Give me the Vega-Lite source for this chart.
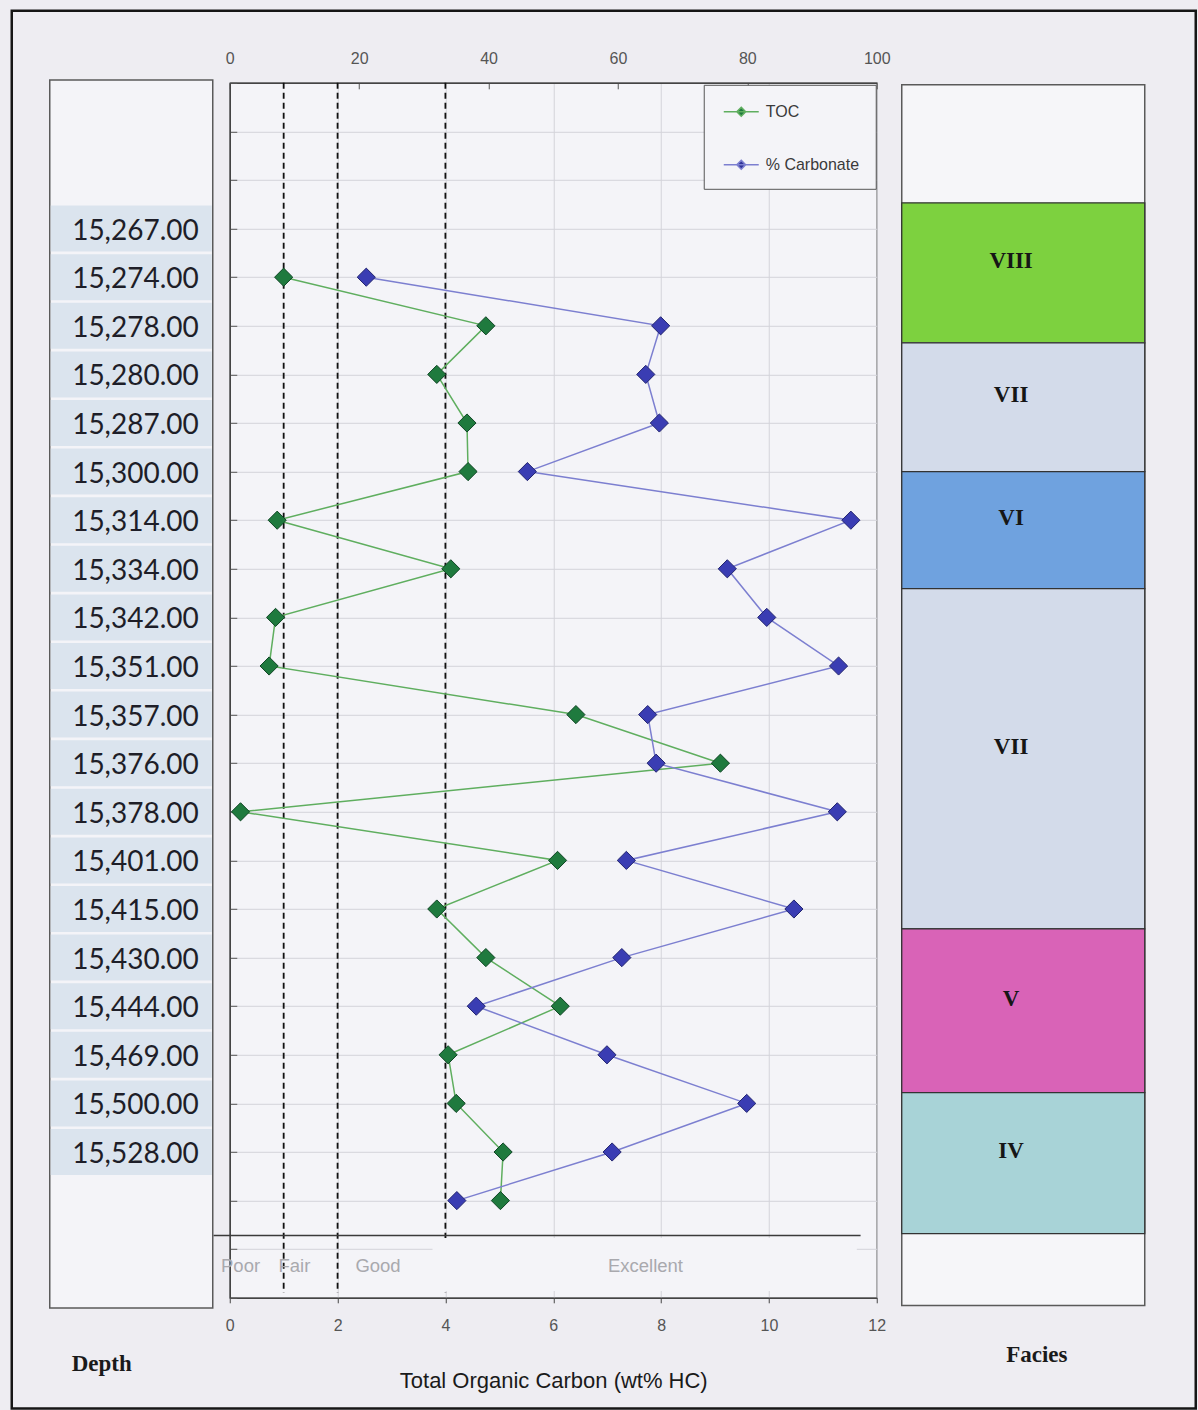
{
  "$schema": "https://vega.github.io/schema/vega-lite/v6.json",
  "background": "#eeedf2",
  "padding": {"left": 9.75, "top": 8.8, "right": 0, "bottom": 0},
  "bounds": "flush",
  "spacing": 17,
  "config": {
    "view": {"stroke": null},
    "text": {"font": "Liberation Sans"}
  },
  "datasets": {
    "samples": [
      {"row": 4, "toc": 1.0, "carb": 21.1},
      {"row": 5, "toc": 4.75, "carb": 66.6},
      {"row": 6, "toc": 3.84, "carb": 64.3},
      {"row": 7, "toc": 4.4, "carb": 66.4},
      {"row": 8, "toc": 4.42, "carb": 46.0},
      {"row": 9, "toc": 0.88, "carb": 96.0},
      {"row": 10, "toc": 4.1, "carb": 76.9},
      {"row": 11, "toc": 0.85, "carb": 83.0},
      {"row": 12, "toc": 0.73, "carb": 94.1},
      {"row": 13, "toc": 6.42, "carb": 64.6},
      {"row": 14, "toc": 9.1, "carb": 65.9},
      {"row": 15, "toc": 0.2, "carb": 93.9},
      {"row": 16, "toc": 6.08, "carb": 61.3},
      {"row": 17, "toc": 3.84, "carb": 87.2},
      {"row": 18, "toc": 4.75, "carb": 60.6},
      {"row": 19, "toc": 6.13, "carb": 38.1},
      {"row": 20, "toc": 4.05, "carb": 58.3},
      {"row": 21, "toc": 4.2, "carb": 79.9},
      {"row": 22, "toc": 5.07, "carb": 59.1},
      {"row": 23, "toc": 5.02, "carb": 35.1}
    ],
    "depths": [
      {"row": 3, "depth": 15267}, {"row": 4, "depth": 15274}, {"row": 5, "depth": 15278},
      {"row": 6, "depth": 15280}, {"row": 7, "depth": 15287}, {"row": 8, "depth": 15300},
      {"row": 9, "depth": 15314}, {"row": 10, "depth": 15334}, {"row": 11, "depth": 15342},
      {"row": 12, "depth": 15351}, {"row": 13, "depth": 15357}, {"row": 14, "depth": 15376},
      {"row": 15, "depth": 15378}, {"row": 16, "depth": 15401}, {"row": 17, "depth": 15415},
      {"row": 18, "depth": 15430}, {"row": 19, "depth": 15444}, {"row": 20, "depth": 15469},
      {"row": 21, "depth": 15500}, {"row": 22, "depth": 15528}
    ],
    "facies": [
      {"id": 1, "facies": "VIII", "top": 2.47, "base": 5.35},
      {"id": 2, "facies": "VII", "top": 5.35, "base": 8.0},
      {"id": 3, "facies": "VI", "top": 8.0, "base": 10.41},
      {"id": 4, "facies": "VII", "top": 10.41, "base": 17.41},
      {"id": 5, "facies": "V", "top": 17.41, "base": 20.78},
      {"id": 6, "facies": "IV", "top": 20.78, "base": 23.68}
    ],
    "cutoffs": [{"toc": 1}, {"toc": 2}, {"toc": 4}],
    "grades": [
      {"grade": "Poor", "toc": 0.2},
      {"grade": "Fair", "toc": 1.2},
      {"grade": "Good", "toc": 2.75},
      {"grade": "Excellent", "toc": 7.71}
    ]
  },
  "resolve": {
    "scale": {"color": "independent", "fill": "independent"},
    "legend": {"color": "independent"}
  },
  "hconcat": [
    {
      "width": 163,
      "height": 1215,
      "layer": [
        {
          "data": {"values": [{}]},
          "mark": {"type": "rect", "fill": "transparent", "stroke": "#161616", "strokeWidth": 2.5},
          "encoding": {
            "x": {"datum": -0.2331, "type": "quantitative", "scale": {"domain": [0, 1], "nice": false, "zero": false}, "axis": null},
            "x2": {"datum": 7.0307},
            "y": {"datum": -1.48, "type": "quantitative", "scale": {"domain": [0, 25], "reverse": true, "nice": false, "zero": false}, "axis": null},
            "y2": {"datum": 27.28}
          }
        },
        {
          "data": {"values": [{}]},
          "mark": {"type": "rect", "fill": "#f4f4f8", "stroke": "#5a5a5a", "strokeWidth": 1.5},
          "encoding": {
            "x": {"datum": 0, "type": "quantitative"},
            "x2": {"datum": 1},
            "y": {"datum": -0.06, "type": "quantitative"},
            "y2": {"datum": 25.21}
          }
        },
        {
          "data": {"name": "depths"},
          "mark": {"type": "tick", "orient": "horizontal", "size": 161, "thickness": 46, "color": "#dbe4ee", "opacity": 1},
          "encoding": {
            "x": {"datum": 0.5, "type": "quantitative"},
            "y": {"field": "row", "type": "quantitative"}
          }
        },
        {
          "data": {"name": "depths"},
          "mark": {"type": "text", "align": "right", "baseline": "middle", "dy": 3, "font": "Lato", "fontSize": 28, "color": "#1e1e28"},
          "encoding": {
            "x": {"datum": 0.914, "type": "quantitative"},
            "y": {"field": "row", "type": "quantitative"},
            "text": {"field": "depth", "type": "quantitative", "format": ",.2f"}
          }
        },
        {
          "data": {"values": [{}]},
          "mark": {"type": "text", "text": "Depth", "align": "center", "baseline": "middle", "font": "Liberation Serif", "fontWeight": "bold", "fontSize": 23, "color": "#1a1a1a"},
          "encoding": {
            "x": {"datum": 0.319, "type": "quantitative"},
            "y": {"datum": 26.36, "type": "quantitative"}
          }
        }
      ]
    },
    {
      "width": 647,
      "height": 1215,
      "view": {"fill": "#f4f4f8", "stroke": "#555555", "strokeWidth": 1.2},
      "resolve": {"scale": {"x": "independent"}, "axis": {"x": "independent"}},
      "layer": [
        {
          "layer": [
            {
              "data": {"name": "cutoffs"},
              "mark": {"type": "rule", "color": "#111111", "strokeWidth": 1.8, "strokeDash": [6, 4]},
              "encoding": {
                "x": {"field": "toc", "type": "quantitative", "scale": {"domain": [0, 12], "nice": false, "zero": false}},
                "y": {"datum": 0, "type": "quantitative", "scale": {"domain": [0, 25], "reverse": true, "nice": false, "zero": false}},
                "y2": {"datum": 24.9}
              }
            },
            {
              "data": {"values": [{}]},
              "mark": {"type": "rect", "fill": "#f4f4f8"},
              "encoding": {
                "x": {"datum": 3.76, "type": "quantitative", "scale": {"domain": [0, 12], "nice": false, "zero": false}},
                "x2": {"datum": 11.63},
                "y": {"datum": 23.77, "type": "quantitative", "scale": {"domain": [0, 25], "reverse": true, "nice": false, "zero": false}},
                "y2": {"datum": 24.86}
              }
            },
            {
              "data": {"values": [{}]},
              "mark": {"type": "rule", "color": "#3a3a3a", "strokeWidth": 1.5},
              "encoding": {
                "x": {"datum": -0.3, "type": "quantitative", "scale": {"domain": [0, 12], "nice": false, "zero": false}},
                "x2": {"datum": 11.7},
                "y": {"datum": 23.72, "type": "quantitative", "scale": {"domain": [0, 25], "reverse": true, "nice": false, "zero": false}}
              }
            },
            {
              "data": {"name": "grades"},
              "mark": {"type": "text", "align": "center", "baseline": "middle", "font": "Liberation Sans", "fontSize": 18.5, "color": "#a9a9ae"},
              "encoding": {
                "x": {"field": "toc", "type": "quantitative", "scale": {"domain": [0, 12], "nice": false, "zero": false}},
                "y": {"datum": 24.34, "type": "quantitative", "scale": {"domain": [0, 25], "reverse": true, "nice": false, "zero": false}},
                "text": {"field": "grade"}
              }
            },
            {
              "data": {"name": "samples"},
              "mark": {"type": "line", "strokeWidth": 1.5},
              "encoding": {
                "x": {
                  "field": "toc",
                  "type": "quantitative",
                  "scale": {"domain": [0, 12], "nice": false, "zero": false},
                  "axis": {
                    "orient": "bottom",
                    "values": [0, 2, 4, 6, 8, 10, 12],
                    "format": "d",
                    "grid": true,
                    "gridColor": "#d4d4da",
                    "gridWidth": 1,
                    "domainColor": "#444444",
                    "domainWidth": 1.5,
                    "tickColor": "#444444",
                    "tickSize": 5,
                    "labelFont": "Liberation Sans",
                    "labelFontSize": 16,
                    "labelColor": "#555555",
                    "labelBaseline": "middle",
                    "labelPadding": 23,
                    "labelFlush": false,
                    "labelOverlap": false,
                    "title": "Total Organic Carbon (wt% HC)",
                    "titleFont": "Liberation Sans",
                    "titleFontSize": 22,
                    "titleFontWeight": "normal",
                    "titleColor": "#1a1a1a",
                    "titleY": 83,
                    "titleBaseline": "middle"
                  }
                },
                "y": {
                  "field": "row",
                  "type": "quantitative",
                  "scale": {"domain": [0, 25], "reverse": true, "nice": false, "zero": false},
                  "axis": {
                    "values": [0, 1, 2, 3, 4, 5, 6, 7, 8, 9, 10, 11, 12, 13, 14, 15, 16, 17, 18, 19, 20, 21, 22, 23, 24, 25],
                    "labels": false,
                    "title": null,
                    "ticks": true,
                    "tickSize": -7,
                    "tickColor": "#555555",
                    "tickWidth": 1,
                    "grid": true,
                    "gridColor": "#d4d4da",
                    "gridWidth": 1,
                    "domainColor": "#444444",
                    "domainWidth": 1.5
                  }
                },
                "order": {"field": "row", "type": "quantitative"},
                "color": {
                  "datum": "TOC",
                  "scale": {"domain": ["TOC", "% Carbonate"], "range": ["#5fae5f", "#7c7fd0"]},
                  "legend": {
                    "title": null,
                    "orient": "none",
                    "legendX": 474,
                    "legendY": 2,
                    "direction": "vertical",
                    "padding": 16,
                    "strokeColor": "#555555",
                    "fillColor": "#f4f4f8",
                    "cornerRadius": 0,
                    "symbolType": "M-1.75,0H1.75M0,-0.44L0.44,0L0,0.44L-0.44,0Z",
                    "symbolSize": 400,
                    "symbolOffset": 10.5,
                    "labelOffset": 13.5,
                    "rowPadding": 34,
                    "labelFont": "Liberation Sans",
                    "labelFontSize": 16,
                    "labelColor": "#3a3a3a",
                    "encode": {
                      "symbols": {
                        "update": {
                          "fill": [{"test": "datum.value === 'TOC'", "value": "#1f7a3e"}, {"value": "#2f3399"}],
                          "stroke": [{"test": "datum.value === 'TOC'", "value": "#5fae5f"}, {"value": "#7c7fd0"}],
                          "strokeWidth": {"value": 1.5},
                          "opacity": {"value": 1}
                        }
                      }
                    }
                  }
                }
              }
            },
            {
              "data": {"name": "samples"},
              "mark": {"type": "point", "shape": "diamond", "filled": true, "size": 330, "color": "#1f7a3e", "stroke": "#0f4524", "strokeWidth": 1, "opacity": 1},
              "encoding": {
                "x": {"field": "toc", "type": "quantitative", "scale": {"domain": [0, 12], "nice": false, "zero": false}},
                "y": {"field": "row", "type": "quantitative", "scale": {"domain": [0, 25], "reverse": true, "nice": false, "zero": false}}
              }
            }
          ]
        },
        {
          "data": {"name": "samples"},
          "encoding": {
            "x": {
              "field": "carb",
              "type": "quantitative",
              "scale": {"domain": [0, 100], "nice": false, "zero": false},
              "axis": {
                "orient": "top",
                "values": [0, 20, 40, 60, 80, 100],
                "format": "d",
                "grid": false,
                "domainColor": "#444444",
                "domainWidth": 1.5,
                "tickColor": "#555555",
                "tickSize": -6,
                "labelFont": "Liberation Sans",
                "labelFontSize": 16,
                "labelColor": "#555555",
                "labelBaseline": "middle",
                "labelPadding": 30,
                "labelFlush": false,
                "labelOverlap": false,
                "title": null
              }
            },
            "y": {
              "field": "row",
              "type": "quantitative",
              "scale": {"domain": [0, 25], "reverse": true, "nice": false, "zero": false},
              "axis": {
                "values": [0, 1, 2, 3, 4, 5, 6, 7, 8, 9, 10, 11, 12, 13, 14, 15, 16, 17, 18, 19, 20, 21, 22, 23, 24, 25],
                "labels": false,
                "title": null,
                "ticks": true,
                "tickSize": -7,
                "tickColor": "#555555",
                "tickWidth": 1,
                "grid": true,
                "gridColor": "#d4d4da",
                "gridWidth": 1,
                "domainColor": "#444444",
                "domainWidth": 1.5
              }
            }
          },
          "layer": [
            {
              "mark": {"type": "line", "strokeWidth": 1.5},
              "encoding": {
                "order": {"field": "row", "type": "quantitative"},
                "color": {"datum": "% Carbonate"}
              }
            },
            {
              "mark": {"type": "point", "shape": "diamond", "filled": true, "size": 330, "color": "#3a3db3", "stroke": "#22246e", "strokeWidth": 1, "opacity": 1}
            }
          ]
        }
      ]
    },
    {
      "width": 251,
      "height": 1215,
      "layer": [
        {
          "data": {"values": [{}]},
          "mark": {"type": "rect", "fill": "#f6f6f9", "stroke": "#5a5a5a", "strokeWidth": 1.5},
          "encoding": {
            "x": {"datum": 0, "type": "quantitative", "scale": {"domain": [-0.0329, 1], "nice": false, "zero": false}, "axis": null},
            "x2": {"datum": 1},
            "y": {"datum": 0.04, "type": "quantitative", "scale": {"domain": [0, 25], "reverse": true, "nice": false, "zero": false}, "axis": null},
            "y2": {"datum": 25.16}
          }
        },
        {
          "data": {"name": "facies"},
          "mark": {"type": "rect", "stroke": "#333333", "strokeWidth": 1.3},
          "encoding": {
            "x": {"datum": 0, "type": "quantitative"},
            "x2": {"datum": 1},
            "y": {"field": "top", "type": "quantitative"},
            "y2": {"field": "base"},
            "fill": {
              "field": "facies",
              "type": "nominal",
              "scale": {"domain": ["VIII", "VII", "VI", "V", "IV"], "range": ["#7dd13f", "#d3dbea", "#6fa2df", "#d963b7", "#a8d3d7"]},
              "legend": null
            }
          }
        },
        {
          "data": {"name": "facies"},
          "transform": [{"fold": ["top", "base"], "as": ["edge", "pos"]}],
          "mark": {"type": "text", "align": "center", "baseline": "middle", "dy": -12, "font": "Liberation Serif", "fontWeight": "bold", "fontSize": 23, "color": "#161616"},
          "encoding": {
            "x": {"datum": 0.45, "type": "quantitative"},
            "y": {"field": "pos", "aggregate": "mean", "type": "quantitative"},
            "text": {"field": "facies", "type": "nominal"},
            "detail": {"field": "id", "type": "nominal"}
          }
        },
        {
          "data": {"values": [{}]},
          "mark": {"type": "text", "text": "Facies", "align": "center", "baseline": "middle", "font": "Liberation Serif", "fontWeight": "bold", "fontSize": 23, "color": "#1a1a1a"},
          "encoding": {
            "x": {"datum": 0.556, "type": "quantitative"},
            "y": {"datum": 26.17, "type": "quantitative"}
          }
        }
      ]
    }
  ]
}
